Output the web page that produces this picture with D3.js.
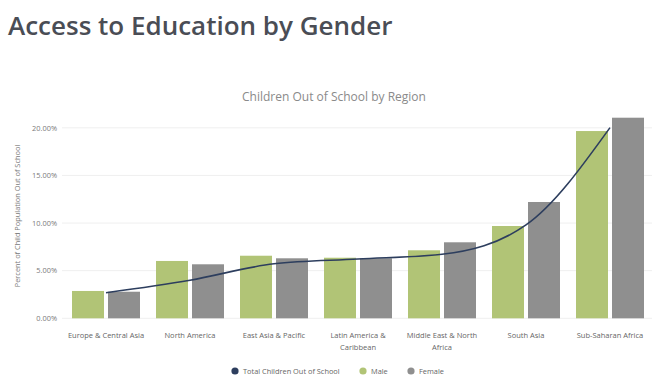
<!DOCTYPE html>
<html><head><meta charset="utf-8">
<script src="https://cdn.jsdelivr.net/npm/d3@7/dist/d3.min.js"></script>
<style>body{margin:0;background:#fff;font-family:"Open Sans",sans-serif;}</style>
</head><body><svg id="c" width="660" height="391"></svg>
<script>
const categories = ["Europe & Central Asia","North America","East Asia & Pacific","Latin America & Caribbean","Middle East & North Africa","South Asia","Sub-Saharan Africa"];
const categoryLines = [["Europe & Central Asia"],["North America"],["East Asia & Pacific"],["Latin America &","Caribbean"],["Middle East & North","Africa"],["South Asia"],["Sub-Saharan Africa"]];
const male = [2.87, 6.02, 6.57, 6.36, 7.14, 9.69, 19.66];
const female = [2.79, 5.67, 6.30, 6.30, 7.98, 12.21, 21.06];
const total = [2.69, 4.0, 5.72, 6.22, 6.72, 9.8, 20.02];
const yTicks = [0, 5, 10, 15, 20];
const seriesNames = ["Total Children Out of School","Male","Female"];
const colors = {total:"#2d3e5e", male:"#b1c476", female:"#8f8f8f"};

const svg = d3.select("#c");
svg.append("text").attr("x",8).attr("y",35).attr("font-size",26).attr("font-weight",600).attr("fill","#4a4d55").text("Access to Education by Gender");
svg.append("text").attr("x",334).attr("y",101).attr("text-anchor","middle").attr("font-size",12).attr("fill","#8a8a8a").text("Children Out of School by Region");

const x = d3.scaleBand().domain(categories).range([64,652]).paddingInner(0).paddingOuter(0);
const y = d3.scaleLinear().domain([0,20]).range([318.3,127.8]);

const g = svg.append("g");
g.selectAll("line.grid").data(yTicks).enter().append("line")
  .attr("x1",62).attr("x2",652).attr("y1",d=>y(d)).attr("y2",d=>y(d))
  .attr("stroke","#efefef").attr("stroke-width",1);
g.selectAll("text.yt").data(yTicks).enter().append("text")
  .attr("x",57).attr("y",d=>y(d)+2.7).attr("text-anchor","end").attr("font-size",7.4).attr("fill","#7a7a7a")
  .text(d=>d3.format(".2f")(d)+"%");
svg.append("text").attr("transform","translate(20,216) rotate(-90)").attr("text-anchor","middle")
  .attr("font-size",7.4).attr("fill","#7a7a7a").text("Percent of Child Population Out of School");

const bw = 32, off = 8, gap = 4;
g.selectAll("rect.m").data(categories).enter().append("rect")
  .attr("x",d=>x(d)+off).attr("width",bw).attr("y",(d,i)=>y(male[i])).attr("height",(d,i)=>y(0)-y(male[i]))
  .attr("fill",colors.male);
g.selectAll("rect.f").data(categories).enter().append("rect")
  .attr("x",d=>x(d)+off+bw+gap).attr("width",bw).attr("y",(d,i)=>y(female[i])).attr("height",(d,i)=>y(0)-y(female[i]))
  .attr("fill",colors.female);

const line = d3.line().x((d,i)=>x(categories[i])+x.bandwidth()/2).y(d=>y(d)).curve(d3.curveMonotoneX);
g.append("path").attr("d",line(total)).attr("fill","none").attr("stroke",colors.total).attr("stroke-width",1.6);

categoryLines.forEach((lines,i)=>{
  const t = svg.append("text").attr("x",x(categories[i])+x.bandwidth()/2).attr("y",337.5)
    .attr("text-anchor","middle").attr("font-size",7.5).attr("fill","#666");
  lines.forEach((l,j)=>t.append("tspan").attr("x",x(categories[i])+x.bandwidth()/2).attr("dy",j?12:0).text(l));
});

const leg = [{n:seriesNames[0],c:colors.total,x:235},{n:seriesNames[1],c:colors.male,x:363},{n:seriesNames[2],c:colors.female,x:411}];
leg.forEach(l=>{
  svg.append("circle").attr("cx",l.x).attr("cy",371).attr("r",3.6).attr("fill",l.c);
  svg.append("text").attr("x",l.x+8).attr("y",373.6).attr("font-size",7.4).attr("fill","#666").text(l.n);
});
</script></body></html>
